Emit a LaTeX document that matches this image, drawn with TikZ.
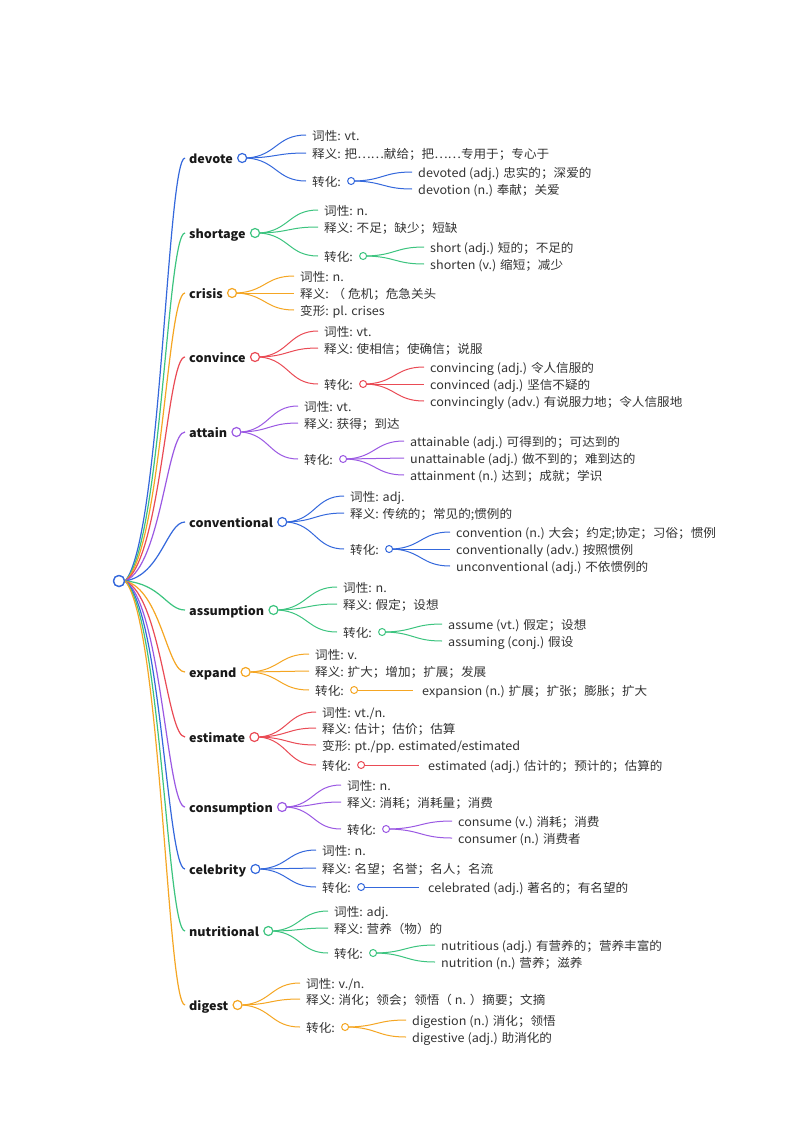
\documentclass[tikz,border=0pt]{standalone}
\usepackage{fontspec}
\setmainfont{Noto Sans CJK SC}[FakeStretch=1.05]
\usetikzlibrary{calc}
\definecolor{cblue}{HTML}{3468DC}
\definecolor{cgreen}{HTML}{3CC47F}
\definecolor{corange}{HTML}{F5A623}
\definecolor{cred}{HTML}{EA4B55}
\definecolor{cpurple}{HTML}{9B59E3}
\definecolor{ctext}{HTML}{333333}
\tikzset{
  word/.style={font=\bfseries\fontsize{12}{14}\selectfont, text=black!90, anchor=west, inner xsep=4pt, inner ysep=0pt, xshift=-4pt, text height=11pt, text depth=0pt},
  lab/.style={font=\fontsize{12}{14}\selectfont, text=ctext, anchor=west, inner xsep=6pt, inner ysep=0pt, xshift=-6pt, text height=11pt, text depth=0pt},
  dot/.style={circle, draw=#1, fill=white, minimum size=9pt, inner sep=0pt, line width=1.2pt, anchor=west},
  sdot/.style={circle, draw=#1, fill=white, minimum size=7pt, inner sep=0pt, line width=1pt, anchor=west},
  rootdot/.style={circle, draw=cblue, fill=white, minimum size=11pt, inner sep=0pt, line width=1.3pt},
  rl/.style={draw=#1, line width=1.2pt},
  sl/.style={draw=#1, line width=1pt},
}
\newcommand\rlink[3]{\path[rl=#1] let \p1=(#2.east), \p2=(#3.west) in (\p1) .. controls ({\x1+0.6*(\x2-\x1)},{\y1+0.1*(\y2-\y1)}) and ({\x2-0.3*(\x2-\x1)},\y2) .. (\p2);}
\newcommand\slink[3]{\path[sl=#1] let \p1=(#2.east), \p2=(#3.west) in (\p1) .. controls ({\x1+0.5*(\x2-\x1)},{\y1+0.1*(\y2-\y1)}) and ({\x1+0.5*(\x2-\x1)},\y2) .. (\p2);}
\newcommand\strl[3]{\path[sl=#1] (#2.east) -- (#3.west);}
\begin{document}
\begin{tikzpicture}[x=1pt,y=-1pt]
\fill[white] (0,0) rectangle (800,1132);
\useasboundingbox (0,0) rectangle (800,1132);

\node[rootdot] (root) at (119,581) {};

% ---------- devote
\node[word] (devote) at (189,158) {devote};
\node[dot=cblue] (devote-c) at (devote.east) {};
\node[lab] (devote-pos) at (312,135) {词性: vt.};
\node[lab] (devote-def) at (312,153) {释义: 把……献给；把……专用于；专心于};
\node[lab] (devote-tr) at (312,181) {转化:};
\node[sdot=cblue] (devote-trc) at (devote-tr.east) {};
\node[lab] (devote-d1) at (418,172) {devoted (adj.) 忠实的；深爱的};
\node[lab] (devote-d2) at (418,189) {devotion (n.) 奉献；关爱};
\rlink{cblue}{root}{devote}
\slink{cblue}{devote-c}{devote-pos}
\slink{cblue}{devote-c}{devote-def}
\slink{cblue}{devote-c}{devote-tr}
\slink{cblue}{devote-trc}{devote-d1}
\slink{cblue}{devote-trc}{devote-d2}

% ---------- shortage
\node[word] (shortage) at (189,233) {shortage};
\node[dot=cgreen] (shortage-c) at (shortage.east) {};
\node[lab] (shortage-pos) at (324,210) {词性: n.};
\node[lab] (shortage-def) at (324,227) {释义: 不足；缺少；短缺};
\node[lab] (shortage-tr) at (324,256) {转化:};
\node[sdot=cgreen] (shortage-trc) at (shortage-tr.east) {};
\node[lab] (shortage-d1) at (430,247) {short (adj.) 短的；不足的};
\node[lab] (shortage-d2) at (430,264) {shorten (v.) 缩短；减少};
\rlink{cgreen}{root}{shortage}
\slink{cgreen}{shortage-c}{shortage-pos}
\slink{cgreen}{shortage-c}{shortage-def}
\slink{cgreen}{shortage-c}{shortage-tr}
\slink{cgreen}{shortage-trc}{shortage-d1}
\slink{cgreen}{shortage-trc}{shortage-d2}

% ---------- crisis
\node[word] (crisis) at (189,293) {crisis};
\node[dot=corange] (crisis-c) at (crisis.east) {};
\node[lab] (crisis-pos) at (300,276) {词性: n.};
\node[lab] (crisis-def) at (300,293) {释义: （ 危机；危急关头};
\node[lab] (crisis-var) at (300,310) {变形: pl. crises};
\rlink{corange}{root}{crisis}
\slink{corange}{crisis-c}{crisis-pos}
\slink{corange}{crisis-c}{crisis-def}
\slink{corange}{crisis-c}{crisis-var}

% ---------- convince
\node[word] (convince) at (189,357) {convince};
\node[dot=cred] (convince-c) at (convince.east) {};
\node[lab] (convince-pos) at (324,331) {词性: vt.};
\node[lab] (convince-def) at (324,348) {释义: 使相信；使确信；说服};
\node[lab] (convince-tr) at (324,384) {转化:};
\node[sdot=cred] (convince-trc) at (convince-tr.east) {};
\node[lab] (convince-d1) at (430,367) {convincing (adj.) 令人信服的};
\node[lab] (convince-d2) at (430,384) {convinced (adj.) 坚信不疑的};
\node[lab] (convince-d3) at (430,401) {convincingly (adv.) 有说服力地；令人信服地};
\rlink{cred}{root}{convince}
\slink{cred}{convince-c}{convince-pos}
\slink{cred}{convince-c}{convince-def}
\slink{cred}{convince-c}{convince-tr}
\slink{cred}{convince-trc}{convince-d1}
\slink{cred}{convince-trc}{convince-d2}
\slink{cred}{convince-trc}{convince-d3}

% ---------- attain
\node[word] (attain) at (189,432) {attain};
\node[dot=cpurple] (attain-c) at (attain.east) {};
\node[lab] (attain-pos) at (304,406) {词性: vt.};
\node[lab] (attain-def) at (304,423) {释义: 获得；到达};
\node[lab] (attain-tr) at (304,459) {转化:};
\node[sdot=cpurple] (attain-trc) at (attain-tr.east) {};
\node[lab] (attain-d1) at (410,441) {attainable (adj.) 可得到的；可达到的};
\node[lab] (attain-d2) at (410,458) {unattainable (adj.) 做不到的；难到达的};
\node[lab] (attain-d3) at (410,475) {attainment (n.) 达到；成就；学识};
\rlink{cpurple}{root}{attain}
\slink{cpurple}{attain-c}{attain-pos}
\slink{cpurple}{attain-c}{attain-def}
\slink{cpurple}{attain-c}{attain-tr}
\slink{cpurple}{attain-trc}{attain-d1}
\slink{cpurple}{attain-trc}{attain-d2}
\slink{cpurple}{attain-trc}{attain-d3}

% ---------- conventional
\node[word] (conventional) at (189,522) {conventional};
\node[dot=cblue] (conventional-c) at (conventional.east) {};
\node[lab] (conventional-pos) at (350,496) {词性: adj.};
\node[lab] (conventional-def) at (350,513) {释义: 传统的；常见的;惯例的};
\node[lab] (conventional-tr) at (350,549) {转化:};
\node[sdot=cblue] (conventional-trc) at (conventional-tr.east) {};
\node[lab] (conventional-d1) at (456,532) {convention (n.) 大会；约定;协定；习俗；惯例};
\node[lab] (conventional-d2) at (456,549) {conventionally (adv.) 按照惯例};
\node[lab] (conventional-d3) at (456,566) {unconventional (adj.) 不依惯例的};
\rlink{cblue}{root}{conventional}
\slink{cblue}{conventional-c}{conventional-pos}
\slink{cblue}{conventional-c}{conventional-def}
\slink{cblue}{conventional-c}{conventional-tr}
\slink{cblue}{conventional-trc}{conventional-d1}
\slink{cblue}{conventional-trc}{conventional-d2}
\slink{cblue}{conventional-trc}{conventional-d3}

% ---------- assumption
\node[word] (assumption) at (189,610) {assumption};
\node[dot=cgreen] (assumption-c) at (assumption.east) {};
\node[lab] (assumption-pos) at (343,587) {词性: n.};
\node[lab] (assumption-def) at (343,604) {释义: 假定；设想};
\node[lab] (assumption-tr) at (343,632) {转化:};
\node[sdot=cgreen] (assumption-trc) at (assumption-tr.east) {};
\node[lab] (assumption-d1) at (448,624) {assume (vt.) 假定；设想};
\node[lab] (assumption-d2) at (448,641) {assuming (conj.) 假设};
\rlink{cgreen}{root}{assumption}
\slink{cgreen}{assumption-c}{assumption-pos}
\slink{cgreen}{assumption-c}{assumption-def}
\slink{cgreen}{assumption-c}{assumption-tr}
\slink{cgreen}{assumption-trc}{assumption-d1}
\slink{cgreen}{assumption-trc}{assumption-d2}

% ---------- expand
\node[word] (expand) at (189,672) {expand};
\node[dot=corange] (expand-c) at (expand.east) {};
\node[lab] (expand-pos) at (315,654) {词性: v.};
\node[lab] (expand-def) at (315,671) {释义: 扩大；增加；扩展；发展};
\node[lab] (expand-tr) at (315,690) {转化:};
\node[sdot=corange] (expand-trc) at (expand-tr.east) {};
\node[lab, inner xsep=9pt, xshift=-3pt] (expand-d1) at (422,690) {expansion (n.) 扩展；扩张；膨胀；扩大};
\rlink{corange}{root}{expand}
\slink{corange}{expand-c}{expand-pos}
\slink{corange}{expand-c}{expand-def}
\slink{corange}{expand-c}{expand-tr}
\strl{corange}{expand-trc}{expand-d1}

% ---------- estimate
\node[word] (estimate) at (189,737) {estimate};
\node[dot=cred] (estimate-c) at (estimate.east) {};
\node[lab] (estimate-pos) at (322,712) {词性: vt./n.};
\node[lab] (estimate-def) at (322,728) {释义: 估计；估价；估算};
\node[lab] (estimate-var) at (322,745) {变形: pt./pp. estimated/estimated};
\node[lab] (estimate-tr) at (322,765) {转化:};
\node[sdot=cred] (estimate-trc) at (estimate-tr.east) {};
\node[lab, inner xsep=9pt, xshift=-3pt] (estimate-d1) at (428,765) {estimated (adj.) 估计的；预计的；估算的};
\rlink{cred}{root}{estimate}
\slink{cred}{estimate-c}{estimate-pos}
\slink{cred}{estimate-c}{estimate-def}
\slink{cred}{estimate-c}{estimate-var}
\slink{cred}{estimate-c}{estimate-tr}
\strl{cred}{estimate-trc}{estimate-d1}

% ---------- consumption
\node[word] (consumption) at (189,807) {consumption};
\node[dot=cpurple] (consumption-c) at (consumption.east) {};
\node[lab] (consumption-pos) at (347,785) {词性: n.};
\node[lab] (consumption-def) at (347,802) {释义: 消耗；消耗量；消费};
\node[lab] (consumption-tr) at (347,829) {转化:};
\node[sdot=cpurple] (consumption-trc) at (consumption-tr.east) {};
\node[lab] (consumption-d1) at (458,821) {consume (v.) 消耗；消费};
\node[lab] (consumption-d2) at (458,838) {consumer (n.) 消费者};
\rlink{cpurple}{root}{consumption}
\slink{cpurple}{consumption-c}{consumption-pos}
\slink{cpurple}{consumption-c}{consumption-def}
\slink{cpurple}{consumption-c}{consumption-tr}
\slink{cpurple}{consumption-trc}{consumption-d1}
\slink{cpurple}{consumption-trc}{consumption-d2}

% ---------- celebrity
\node[word] (celebrity) at (189,869) {celebrity};
\node[dot=cblue] (celebrity-c) at (celebrity.east) {};
\node[lab] (celebrity-pos) at (322,850) {词性: n.};
\node[lab] (celebrity-def) at (322,868) {释义: 名望；名誉；名人；名流};
\node[lab] (celebrity-tr) at (322,887) {转化:};
\node[sdot=cblue] (celebrity-trc) at (celebrity-tr.east) {};
\node[lab, inner xsep=9pt, xshift=-3pt] (celebrity-d1) at (428,887) {celebrated (adj.) 著名的；有名望的};
\rlink{cblue}{root}{celebrity}
\slink{cblue}{celebrity-c}{celebrity-pos}
\slink{cblue}{celebrity-c}{celebrity-def}
\slink{cblue}{celebrity-c}{celebrity-tr}
\strl{cblue}{celebrity-trc}{celebrity-d1}

% ---------- nutritional
\node[word] (nutritional) at (189,931) {nutritional};
\node[dot=cgreen] (nutritional-c) at (nutritional.east) {};
\node[lab] (nutritional-pos) at (334,911) {词性: adj.};
\node[lab] (nutritional-def) at (334,928) {释义: 营养（物）的};
\node[lab] (nutritional-tr) at (334,953) {转化:};
\node[sdot=cgreen] (nutritional-trc) at (nutritional-tr.east) {};
\node[lab] (nutritional-d1) at (441,945) {nutritious (adj.) 有营养的；营养丰富的};
\node[lab] (nutritional-d2) at (441,962) {nutrition (n.) 营养；滋养};
\rlink{cgreen}{root}{nutritional}
\slink{cgreen}{nutritional-c}{nutritional-pos}
\slink{cgreen}{nutritional-c}{nutritional-def}
\slink{cgreen}{nutritional-c}{nutritional-tr}
\slink{cgreen}{nutritional-trc}{nutritional-d1}
\slink{cgreen}{nutritional-trc}{nutritional-d2}

% ---------- digest
\node[word] (digest) at (189,1005) {digest};
\node[dot=corange] (digest-c) at (digest.east) {};
\node[lab] (digest-pos) at (306,983) {词性: v./n.};
\node[lab] (digest-def) at (306,999) {释义: 消化；领会；领悟（ n. ）摘要；文摘};
\node[lab] (digest-tr) at (306,1027) {转化:};
\node[sdot=corange] (digest-trc) at (digest-tr.east) {};
\node[lab] (digest-d1) at (412,1020) {digestion (n.) 消化；领悟};
\node[lab] (digest-d2) at (412,1037) {digestive (adj.) 助消化的};
\rlink{corange}{root}{digest}
\slink{corange}{digest-c}{digest-pos}
\slink{corange}{digest-c}{digest-def}
\slink{corange}{digest-c}{digest-tr}
\slink{corange}{digest-trc}{digest-d1}
\slink{corange}{digest-trc}{digest-d2}

% root on top
\node[rootdot] (root2) at (root.center) {};
\end{tikzpicture}
\end{document}
